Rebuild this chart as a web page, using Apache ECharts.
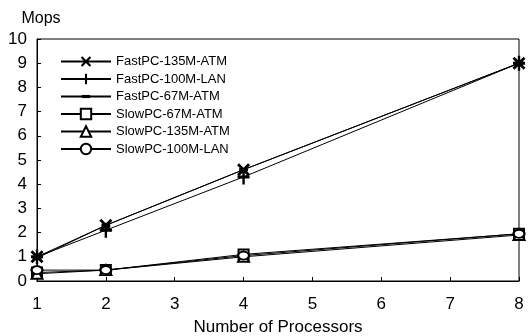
<!DOCTYPE html>
<html><head><meta charset="utf-8">
<script src="https://cdn.jsdelivr.net/npm/echarts@6/dist/echarts.min.js"></script>
<style>html,body{margin:0;padding:0;background:#fff}#c{width:530px;height:336px}</style>
</head><body><div id="c"></div>
<script>
const processors = [1, 2, 4, 8];
const seriesNames = ['FastPC-135M-ATM','FastPC-100M-LAN','FastPC-67M-ATM','SlowPC-67M-ATM','SlowPC-135M-ATM','SlowPC-100M-LAN'];
const fast135 = [1.0, 2.3, 4.6, 9.0];
const fast100 = [1.0, 2.1, 4.3, 9.0];
const fast67  = [0.95, 2.3, 4.6, 9.0];
const slow67  = [0.35, 0.45, 1.1, 1.95];
const slow135 = [0.3, 0.45, 1.0, 1.9];
const slow100 = [0.45, 0.45, 1.05, 1.95];
const yTicks = [0,1,2,3,4,5,6,7,8,9,10];
const xTicks = [1,2,3,4,5,6,7,8];

const values = [fast135, fast100, fast67, slow67, slow135, slow100];
const F = 'Liberation Sans, Arial, sans-serif';
const symbols = [
  {s:'path://M0,1.5L1.5,0L5,3.5L8.5,0L10,1.5L6.5,5L10,8.5L8.5,10L5,6.5L1.5,10L0,8.5L3.5,5Z', size:[13,13], fill:'#000', bw:0},
  {s:'path://M4,0L6,0L6,4L10,4L10,6L6,6L6,10L4,10L4,6L0,6L0,4L4,4Z', size:[12,15], fill:'#000', bw:0},
  {s:'path://M0,0M10,10M1,3.5L9,3.5L9,6.5L1,6.5Z', size:[11,11], fill:'#000', bw:0},
  {s:'rect', size:[10,10], fill:'#fff', bw:2},
  {s:'triangle', size:[11,10], fill:'#fff', bw:2},
  {s:'circle', size:[11,8], fill:'#fff', bw:2}
];
const series = seriesNames.map((n,i)=>({
  name:n, type:'line',
  data: processors.map((p,j)=>[p, values[i][j]]),
  symbol: symbols[i].s, symbolSize: symbols[i].size, showAllSymbol:true,
  lineStyle:{color:'#000', width:1},
  itemStyle:{color:symbols[i].fill, borderColor:'#000', borderWidth:symbols[i].bw},
  emphasis:{disabled:true}, animation:false
}));
const chart = echarts.init(document.getElementById('c'));
chart.setOption({
  animation:false,
  backgroundColor:'#fff',
  grid:{left:37, right:11, top:39, bottom:55, containLabel:false, outerBoundsMode:'none',
        show:true, borderColor:'#000', borderWidth:1, backgroundColor:'transparent'},
  legend:{
    orient:'vertical', left:60, top:55, padding:0, itemWidth:50, itemHeight:13, itemGap:4.5,
    data: seriesNames,
    textStyle:{fontFamily:F, fontSize:13, color:'#000', lineHeight:13}
  },
  xAxis:{
    type:'value', min:xTicks[0], max:xTicks[xTicks.length-1], interval:1,
    name:'Number of Processors', nameLocation:'middle', nameGap:38,
    nameTextStyle:{fontFamily:F, fontSize:17, color:'#000'},
    axisLine:{lineStyle:{color:'#000', width:1}},
    axisTick:{inside:true, length:4, lineStyle:{color:'#000'}},
    axisLabel:{fontFamily:F, fontSize:17, color:'#000', margin:15},
    splitLine:{show:false}
  },
  yAxis:{
    type:'value', min:yTicks[0], max:yTicks[yTicks.length-1], interval:1,
    name:'Mops', nameLocation:'end', nameGap:12,
    nameTextStyle:{fontFamily:F, fontSize:16, color:'#000', align:'center', padding:[0,0,0,8]},
    axisLine:{show:true, lineStyle:{color:'#000', width:1}},
    axisTick:{show:true, inside:true, length:4, lineStyle:{color:'#000'}},
    axisLabel:{fontFamily:F, fontSize:17, color:'#000', margin:10},
    splitLine:{show:false}
  },
  series: series
});
</script></body></html>
